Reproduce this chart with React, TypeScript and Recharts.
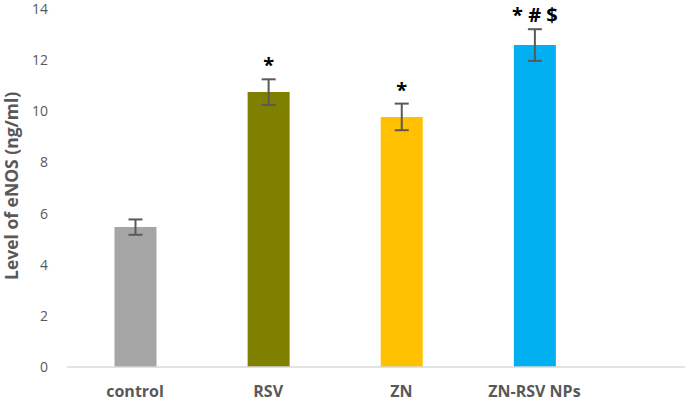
import React from 'react';
import { BarChart, Bar, XAxis, YAxis, Cell, ErrorBar, LabelList } from 'recharts';

const groups = ['control', 'RSV', 'ZN', 'ZN-RSV NPs'];
const means = [5.47, 10.75, 9.78, 12.59];
const errors = [0.3, 0.5, 0.52, 0.62];
const marks = ['', '*', '*', '* # $'];
const colors = ['#a5a5a5', '#808000', '#ffc000', '#00b0f0'];
const yTicks = [0, 2, 4, 6, 8, 10, 12, 14];

const rows = groups.map((g, i) => ({ name: g, value: means[i], err: errors[i], mark: marks[i] }));

const font = '"Open Sans", "Liberation Sans", sans-serif';

// star / hash / dollar marks sit just above the error bar cap
function MarkLabel(props: any) {
  const { x, y, width, height, index } = props;
  const row = rows[index];
  if (!row || !row.mark) return null;
  const pxPerUnit = height / row.value;
  const top = y - row.err * pxPerUnit;
  return (
    <text
      x={x + width / 2}
      y={top - 7}
      textAnchor="middle"
      fontFamily={font}
      fontWeight={700}
      fontSize={20}
      fill="#000"
    >
      {row.mark}
    </text>
  );
}

export default function App() {
  return (
    <div style={{ position: 'absolute', left: 0, top: 0, background: '#fff' }}>
      <BarChart width={685} height={404} data={rows} margin={{ top: 9, right: 0, left: 0, bottom: 0 }}>
        <XAxis
          dataKey="name"
          height={37}
          padding={{ left: 1.5, right: 84 }}
          axisLine={{ stroke: '#d9d9d9', strokeWidth: 1.5 }}
          tickLine={false}
          tickSize={0}
          tickMargin={19}
          tick={{ fill: '#595959', fontSize: 16, fontWeight: 700, fontFamily: font }}
        />
        <YAxis
          width={67}
          domain={[0, 14]}
          ticks={yTicks}
          axisLine={false}
          tickLine={false}
          tickSize={0}
          tickMargin={19}
          tick={{ fill: '#595959', fontSize: 14, fontFamily: font }}
          label={{
            value: 'Level of eNOS (ng/ml)',
            angle: -90,
            position: 'insideLeft',
            dx: 7,
            dy: 92,
            style: { fill: '#595959', fontSize: 17.5, fontWeight: 700, fontFamily: font },
          }}
        />
        <Bar dataKey="value" barSize={42} isAnimationActive={false}>
          {rows.map((r, i) => (
            <Cell key={r.name} fill={colors[i]} />
          ))}
          <ErrorBar dataKey="err" width={7} stroke="#595959" strokeWidth={2} />
          <LabelList dataKey="mark" content={MarkLabel} />
        </Bar>
      </BarChart>
    </div>
  );
}
